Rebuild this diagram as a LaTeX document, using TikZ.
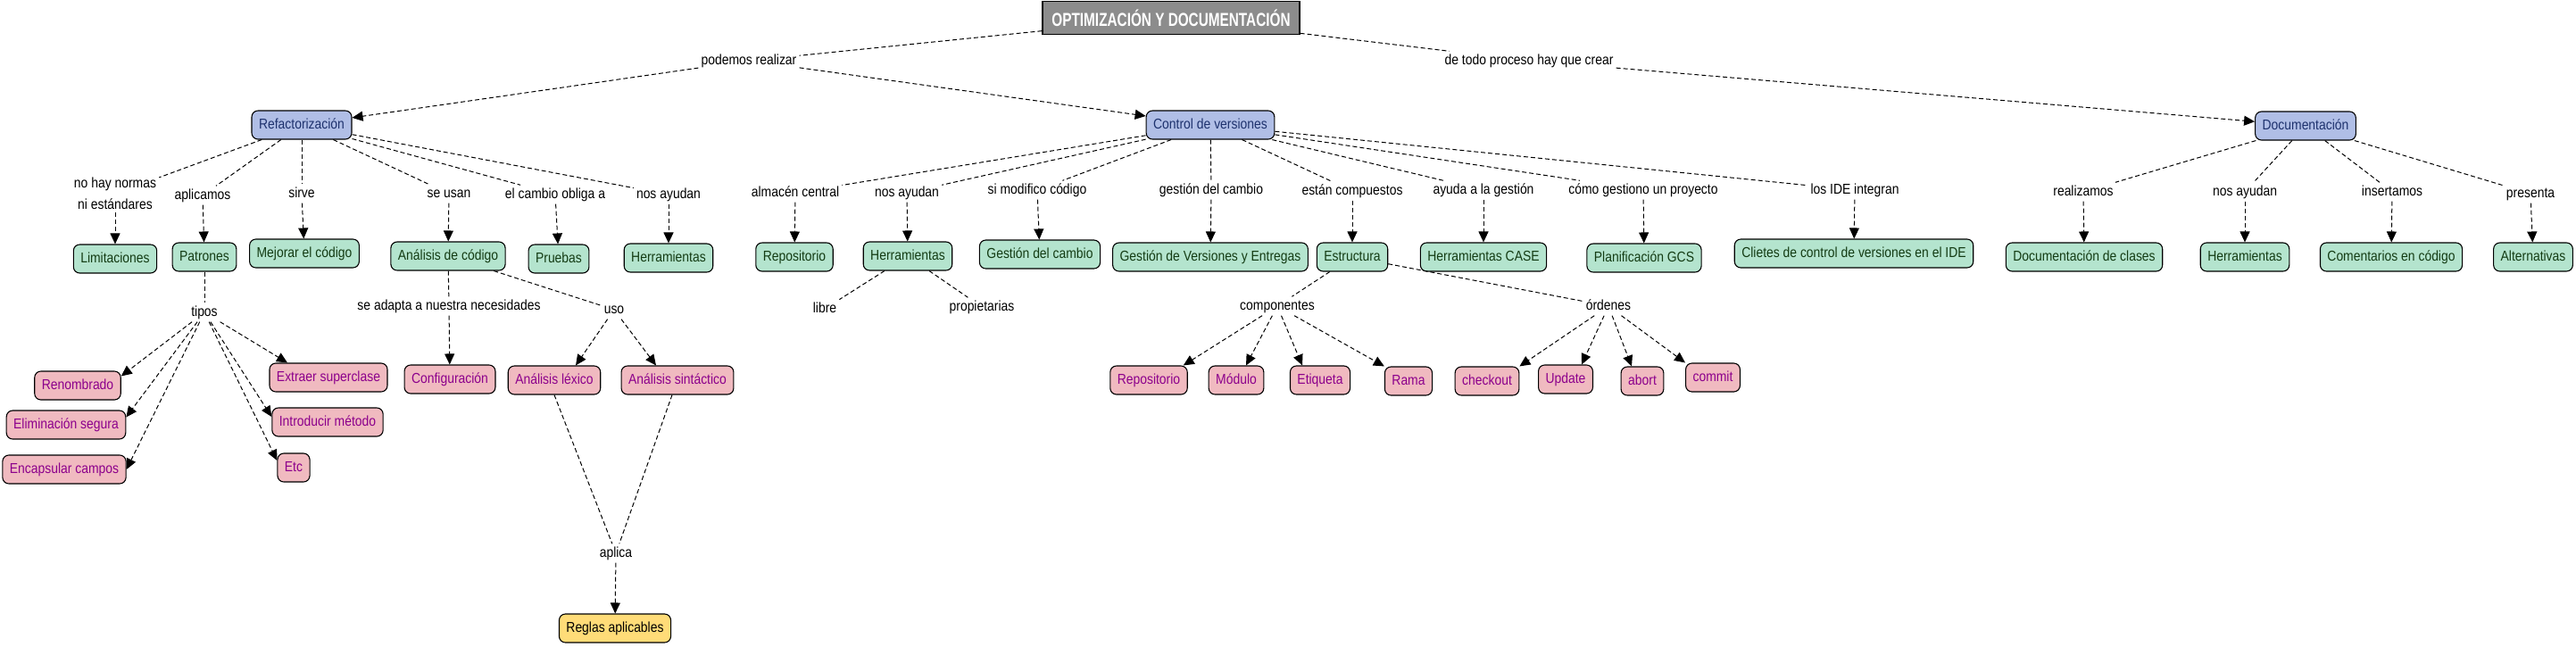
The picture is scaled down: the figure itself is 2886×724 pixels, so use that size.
\documentclass[tikz,border=0pt]{standalone}
\usepackage{fontspec}
\setmainfont{Liberation Sans}[FakeStretch=0.87]
\newfontfamily\titlefont{Liberation Sans}[FakeStretch=0.73]
\usetikzlibrary{arrows.meta}
\definecolor{titleF}{RGB}{140,140,140}
\definecolor{blueF}{RGB}{176,190,230}
\definecolor{blueT}{RGB}{30,50,110}
\definecolor{greenF}{RGB}{180,228,206}
\definecolor{greenT}{RGB}{20,60,20}
\definecolor{pinkF}{RGB}{240,186,192}
\definecolor{pinkT}{RGB}{140,0,140}
\definecolor{yellowF}{RGB}{255,220,120}
\tikzset{
  concept/.style={draw, line width=1.1pt, rounded corners=7pt, inner xsep=8pt, inner ysep=0pt,
    minimum height=32pt, font=\fontsize{16}{19}\selectfont, text height=11.5pt, text depth=3.5pt},
  cblue/.style={concept, fill=blueF, text=blueT},
  cgreen/.style={concept, fill=greenF, text=greenT},
  cpink/.style={concept, fill=pinkF, text=pinkT},
  cyellow/.style={concept, fill=yellowF, text=black},
  ctitle/.style={draw, line width=1.2pt, fill=titleF, text=white, minimum width=288pt, minimum height=37pt,
    font=\titlefont\bfseries\fontsize{21}{24}\selectfont},
  link/.style={font=\fontsize{16}{19}\selectfont, inner sep=3pt, text height=11.5pt, text depth=3.5pt},
  linktwo/.style={font=\fontsize{16}{19}\selectfont, inner sep=3pt, align=center},
  cline/.style={line width=1pt, dash pattern=on 5pt off 3pt},
  carrow/.style={cline, -{Triangle[length=12pt,width=11pt]}}
}
\begin{document}
\begin{tikzpicture}[x=1pt,y=-1pt]
\useasboundingbox (0,0) rectangle (2886,724);
% title
\node[ctitle] (T) at (1312,20) {OPTIMIZACIÓN Y DOCUMENTACIÓN};
% main concepts
\node[cblue] (Refac) at (338,140) {Refactorización};
\node[cblue] (CV) at (1356,140) {Control de versiones};
\node[cblue] (Doc) at (2583,141) {Documentación};
% level 2 refactorizacion
\node[cgreen] (Limit) at (129,290) {Limitaciones};
\node[cgreen] (Patrones) at (229,288) {Patrones};
\node[cgreen] (Mejorar) at (341,284) {Mejorar el código};
\node[cgreen] (AnCod) at (502,287) {Análisis de código};
\node[cgreen] (Pruebas) at (626,290) {Pruebas};
\node[cgreen] (HerrA) at (749,289) {Herramientas};
\node[cpink] (Renom) at (87,432) {Renombrado};
\node[cpink] (Elim) at (74,476) {Eliminación segura};
\node[cpink] (Encap) at (72,526) {Encapsular campos};
\node[cpink] (Extraer) at (368,423) {Extraer superclase};
\node[cpink] (Intro) at (367,473) {Introducir método};
\node[cpink] (Etc) at (329,524) {Etc};
\node[cpink] (Config) at (504,425) {Configuración};
\node[cpink] (Lexico) at (621,426) {Análisis léxico};
\node[cpink] (Sintac) at (759,426) {Análisis sintáctico};
\node[cyellow] (Reglas) at (689,704) {Reglas aplicables};
% level 2 control de versiones
\node[cgreen] (Repo) at (890,288) {Repositorio};
\node[cgreen] (HerrB) at (1017,287) {Herramientas};
\node[cgreen] (GCambio) at (1165,285) {Gestión del cambio};
\node[cgreen] (GVE) at (1356,288) {Gestión de Versiones y Entregas};
\node[cgreen] (Estr) at (1515,288) {Estructura};
\node[cgreen] (CASE) at (1662,288) {Herramientas CASE};
\node[cgreen] (PlanGCS) at (1842,289) {Planificación GCS};
\node[cgreen] (Clietes) at (2077,284) {Clietes de control de versiones en el IDE};
\node[cpink] (Repo2) at (1287,426) {Repositorio};
\node[cpink] (Modulo) at (1385,426) {Módulo};
\node[cpink] (Etiq) at (1479,426) {Etiqueta};
\node[cpink] (Rama) at (1578,427) {Rama};
\node[cpink] (Checkout) at (1666,427) {checkout};
\node[cpink] (Update) at (1754,425) {Update};
\node[cpink] (Abort) at (1840,427) {abort};
\node[cpink] (Commit) at (1919,423) {commit};
% level 2 documentacion
\node[cgreen] (DocCl) at (2335,288) {Documentación de clases};
\node[cgreen] (HerrC) at (2515,288) {Herramientas};
\node[cgreen] (Coment) at (2679,288) {Comentarios en código};
\node[cgreen] (Altern) at (2838,288) {Alternativas};
% linking phrases
\node[link] (lPodemos) at (839,68) {podemos realizar};
\node[link] (lDeTodo) at (1713,68) {de todo proceso hay que crear};
\node[linktwo] (lNoHay) at (129,217) {no hay normas\\[5pt]ni estándares};
\node[link] (lAplicamos) at (227,219) {aplicamos};
\node[link] (lSirve) at (338,217) {sirve};
\node[link] (lSeUsan) at (503,217) {se usan};
\node[link] (lCambio) at (622,218) {el cambio obliga a};
\node[link] (lAyudanA) at (749,218) {nos ayudan};
\node[link] (lTipos) at (229,350) {tipos};
\node[link] (lAdapta) at (503,343) {se adapta a nuestra necesidades};
\node[link] (lUso) at (688,347) {uso};
\node[link] (lAplica) at (690,620) {aplica};
\node[link] (lAlmacen) at (891,216) {almacén central};
\node[link] (lAyudanB) at (1016,216) {nos ayudan};
\node[link] (lSiMod) at (1162,213) {si modifico código};
\node[link] (lGestion) at (1357,213) {gestión del cambio};
\node[link] (lCompuestos) at (1515,214) {están compuestos};
\node[link] (lAyuda) at (1662,213) {ayuda a la gestión};
\node[link] (lComo) at (1841,213) {cómo gestiono un proyecto};
\node[link] (lIDE) at (2078,213) {los IDE integran};
\node[link] (lLibre) at (924,346) {libre};
\node[link] (lProp) at (1100,344) {propietarias};
\node[link] (lComp) at (1431,343) {componentes};
\node[link] (lOrdenes) at (1802,343) {órdenes};
\node[link] (lRealizamos) at (2334,215) {realizamos};
\node[link] (lAyudanC) at (2515,215) {nos ayudan};
\node[link] (lInsertamos) at (2680,215) {insertamos};
\node[link] (lPresenta) at (2835,217) {presenta};
% connectors: title
\draw[cline] (T) -- (lPodemos);
\draw[carrow] (lPodemos) -- (Refac);
\draw[carrow] (lPodemos) -- (CV);
\draw[cline] (T) -- (lDeTodo);
\draw[carrow] (lDeTodo) -- (Doc);
% refactorizacion
\draw[cline] (Refac) -- (lNoHay);  \draw[carrow] (lNoHay) -- (Limit);
\draw[cline] (Refac) -- (lAplicamos);  \draw[carrow] (lAplicamos) -- (Patrones);
\draw[cline] (Refac) -- (lSirve);  \draw[carrow] (lSirve) -- (Mejorar);
\draw[cline] (Refac) -- (lSeUsan);  \draw[carrow] (lSeUsan) -- (AnCod);
\draw[cline] (Refac) -- (lCambio);  \draw[carrow] (lCambio) -- (Pruebas);
\draw[cline] (Refac) -- (lAyudanA);  \draw[carrow] (lAyudanA) -- (HerrA);
\draw[cline] (Patrones) -- (lTipos);
\draw[carrow] (lTipos) -- ([yshift=-6pt]Renom.north east);
\draw[carrow] (lTipos) -- ([yshift=-8pt]Elim.north east);
\draw[carrow] (lTipos) -- (Encap.east);
\draw[carrow] (lTipos) -- ([xshift=-46pt]Extraer.north);
\draw[carrow] (lTipos) -- ([yshift=6pt]Intro.west);
\draw[carrow] (lTipos) -- ([yshift=8pt]Etc.west);
\draw[cline] (AnCod) -- (lAdapta);  \draw[carrow] (lAdapta) -- (Config);
\draw[cline] (AnCod) -- (lUso);
\draw[carrow] (lUso) -- ([xshift=24pt]Lexico.north);
\draw[carrow] (lUso) -- ([xshift=-24pt]Sintac.north);
\draw[cline] (Lexico.south) -- (lAplica);
\draw[cline] ([xshift=-6pt]Sintac.south) -- (lAplica);
\draw[carrow] (lAplica) -- (Reglas);
% control de versiones
\draw[cline] (CV) -- (lAlmacen);  \draw[carrow] (lAlmacen) -- (Repo);
\draw[cline] (CV) -- (lAyudanB);  \draw[carrow] (lAyudanB) -- (HerrB);
\draw[cline] (HerrB) -- (lLibre);
\draw[cline] (HerrB) -- (lProp);
\draw[cline] (CV) -- (lSiMod);  \draw[carrow] (lSiMod) -- (GCambio);
\draw[cline] (CV) -- (lGestion);  \draw[carrow] (lGestion) -- (GVE);
\draw[cline] (CV) -- (lCompuestos);  \draw[carrow] (lCompuestos) -- (Estr);
\draw[cline] (CV) -- (lAyuda);  \draw[carrow] (lAyuda) -- (CASE);
\draw[cline] (CV) -- (lComo);  \draw[carrow] (lComo) -- (PlanGCS);
\draw[cline] (CV) -- (lIDE);  \draw[carrow] (lIDE) -- (Clietes);
\draw[cline] (Estr) -- (lComp);
\draw[carrow] (lComp) -- ([xshift=-5pt]Repo2.north east);
\draw[carrow] (lComp) -- ([xshift=11pt]Modulo.north);
\draw[carrow] (lComp) -- ([xshift=-20pt]Etiq.north);
\draw[carrow] (lComp) -- (Rama.north west);
\draw[cline] (Estr) -- (lOrdenes);
\draw[carrow] (lOrdenes) -- (Checkout.north east);
\draw[carrow] (lOrdenes) -- ([xshift=18pt]Update.north);
\draw[carrow] (lOrdenes) -- ([xshift=-12pt]Abort.north);
\draw[carrow] (lOrdenes) -- (Commit.north west);
% documentacion
\draw[cline] (Doc) -- (lRealizamos);  \draw[carrow] (lRealizamos) -- (DocCl);
\draw[cline] (Doc) -- (lAyudanC);  \draw[carrow] (lAyudanC) -- (HerrC);
\draw[cline] (Doc) -- (lInsertamos);  \draw[carrow] (lInsertamos) -- (Coment);
\draw[cline] (Doc) -- (lPresenta);  \draw[carrow] (lPresenta) -- (Altern);
\end{tikzpicture}
\end{document}
